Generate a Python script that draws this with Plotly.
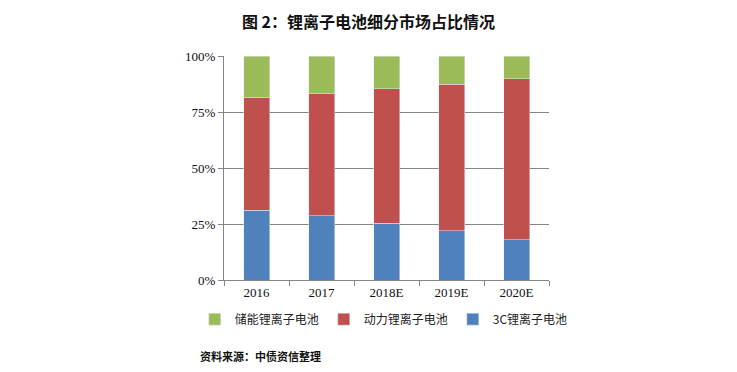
import plotly.graph_objects as go

categories = ["2016", "2017", "2018E", "2019E", "2020E"]
share_3c = [31.2, 28.7, 25.3, 22.0, 18.0]
share_power = [50.4, 54.5, 60.1, 65.5, 71.9]
share_storage = [18.4, 16.8, 14.6, 12.5, 10.1]
y_ticks = [0, 25, 50, 75, 100]
y_tick_labels = ["0%", "25%", "50%", "75%", "100%"]

fig = go.Figure()
fig.add_bar(x=categories, y=share_3c, name="3C锂离子电池", marker_color="#4F81BD")
fig.add_bar(x=categories, y=share_power, name="动力锂离子电池", marker_color="#C0504D")
fig.add_bar(x=categories, y=share_storage, name="储能锂离子电池", marker_color="#9BBB59")

fig.update_layout(
    width=737, height=372,
    barmode="stack", bargap=0.6,
    plot_bgcolor="white", paper_bgcolor="white",
    margin=dict(l=224, r=188, t=56, b=92),
    showlegend=True,
    legend=dict(orientation="h", x=-0.09, xanchor="left", y=-0.11, yanchor="top",
                traceorder="reversed",
                font=dict(family="Noto Sans CJK SC", size=12, color="#222"),
                itemwidth=30, tracegroupgap=0),
    title=dict(text="<b>图 2：锂离子电池细分市场占比情况</b>", x=0.5, xanchor="center",
               y=0.94, yanchor="middle",
               font=dict(family="Noto Sans CJK SC", size=16, color="#111")),
    font=dict(family="Liberation Serif", size=13, color="#111"),
)
fig.update_xaxes(showline=True, linecolor="#868686", linewidth=1,
                 ticks="outside", tickson="boundaries", ticklen=5, tickcolor="#868686",
                 tickfont=dict(family="Liberation Serif", size=13, color="#111"))
fig.update_yaxes(range=[0, 100], tickvals=y_ticks, ticktext=y_tick_labels,
                 showgrid=True, gridcolor="#868686", gridwidth=1,
                 showline=True, linecolor="#868686", linewidth=1,
                 ticks="outside", ticklen=5, tickcolor="#868686",
                 tickfont=dict(family="Liberation Serif", size=13, color="#111"),
                 zeroline=False)
fig.add_annotation(text="<b>资料来源：中债资信整理</b>", xref="paper", yref="paper",
                   x=-0.08, xanchor="left", y=-0.34, yanchor="middle", showarrow=False,
                   font=dict(family="Noto Sans CJK SC", size=11, color="#111"))

fig.write_html("out.html", config={"displayModeBar": False},
               post_script="document.body.style.margin='0';")
